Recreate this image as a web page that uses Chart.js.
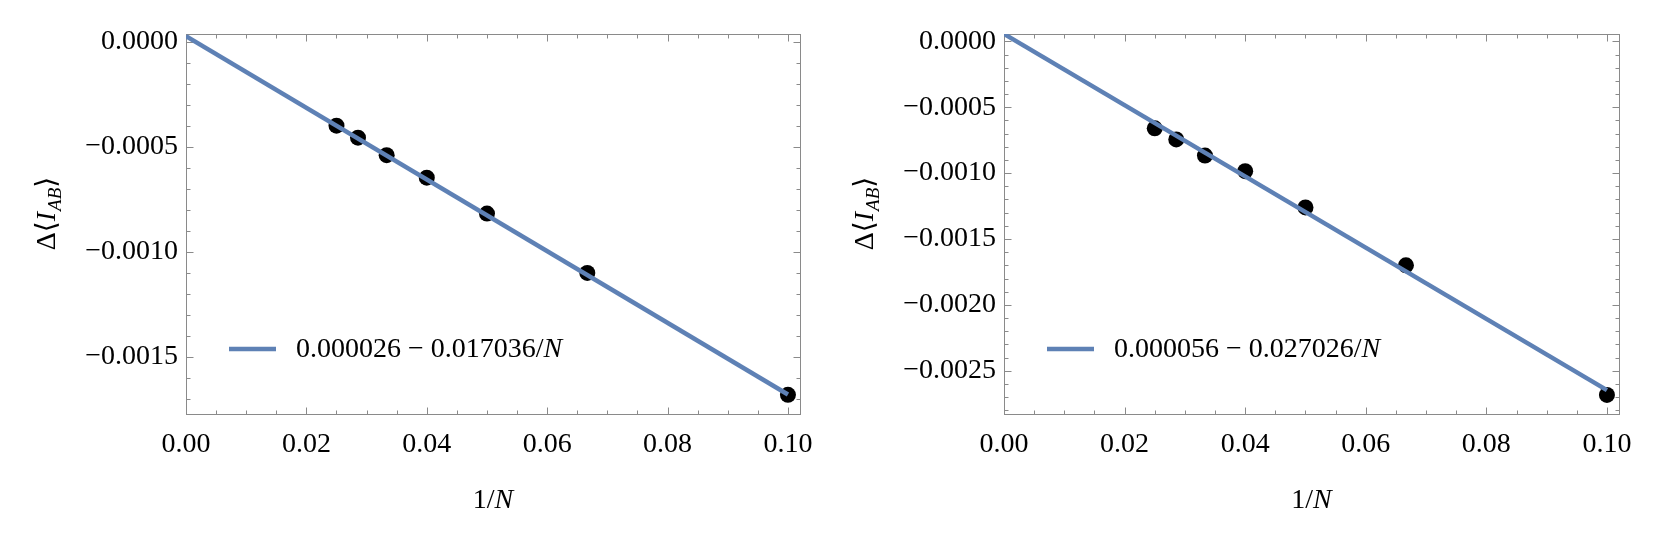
<!DOCTYPE html>
<html><head><meta charset="utf-8">
<script src="https://cdn.jsdelivr.net/npm/chart.js@4.4.1/dist/chart.umd.min.js"></script>
<style>
html,body{margin:0;padding:0;background:#fff;width:1661px;height:541px;overflow:hidden}
.panel{position:absolute;top:0;height:541px}
#p1{left:0;width:830px}
#p2{left:830px;width:831px}
</style></head><body>
<div class="panel" id="p1"><canvas id="c1"></canvas></div>
<div class="panel" id="p2"><canvas id="c2"></canvas></div>
<script>
// ---- data ----
const invN = [0.025, 0.028571, 0.033333, 0.04, 0.05, 0.066667, 0.1];
const leftValues  = [-0.000400, -0.000457, -0.000540, -0.000647, -0.000818, -0.001100, -0.001680];
const rightValues = [-0.000660, -0.000744, -0.000867, -0.000985, -0.001260, -0.001700, -0.002683];
const fitX = [0, 0.1];
const leftFitY  = [0.000026, -0.001678];
const rightFitY = [0.000056, -0.002647];
const leftFitLabel  = '0.000026 − 0.017036/N';
const rightFitLabel = '0.000056 − 0.027026/N';
const xTicks = [0, 0.02, 0.04, 0.06, 0.08, 0.10];
const leftYTicks  = [0, -0.0005, -0.0010, -0.0015];
const rightYTicks = [0, -0.0005, -0.0010, -0.0015, -0.0020, -0.0025];
const xRange = [0, 0.102];
const leftYRange  = [-0.001771, 0.000036];
const rightYRange = [-0.002828, 0.000056];

// ---- styling ----
const FONT = '"Liberation Serif", "DejaVu Serif", serif';
const FS = 28;
const LINE_COLOR = '#5E81B5';
const FRAME_COLOR = '#8a8a8a';

function fmtY(v){ return (v < 0 ? '−' : '') + Math.abs(v).toFixed(4); }

const decor = {
  id: 'decor',
  beforeDatasetsDraw(chart){
    const {ctx, chartArea: a, scales} = chart;
    const xs = scales.x, ys = scales.y;
    ctx.save();
    ctx.strokeStyle = FRAME_COLOR; ctx.lineWidth = 1;
    const L = Math.round(a.left)+0.5, R = Math.round(a.right)+0.5, T = Math.round(a.top)+0.5, B = Math.round(a.bottom)+0.5;
    ctx.strokeRect(L, T, R-L, B-T);
    ctx.beginPath();
    for (let i = 0; i*0.005 <= xs.max + 1e-9; i++){
      const v = i*0.005;
      const major = (i % 4 === 0);
      const len = major ? 7 : 4;
      const px = Math.round(xs.getPixelForValue(v)) + 0.5;
      ctx.moveTo(px, B); ctx.lineTo(px, B - len);
      ctx.moveTo(px, T); ctx.lineTo(px, T + len);
    }
    for (let i = 0; -i*0.0001 >= ys.min - 1e-12; i++){
      const v = -i*0.0001;
      const major = (i % 5 === 0);
      const len = major ? 7 : 4;
      const py = Math.round(ys.getPixelForValue(v)) + 0.5;
      ctx.moveTo(L, py); ctx.lineTo(L + len, py);
      ctx.moveTo(R, py); ctx.lineTo(R - len, py);
    }
    ctx.stroke();
    ctx.restore();
  },
  afterDraw(chart){
    const {ctx, chartArea: a} = chart;
    ctx.save();
    ctx.fillStyle = '#000';
    ctx.textBaseline = 'alphabetic';
    // legend
    const ds = chart.data.datasets[1];
    ctx.strokeStyle = ds.borderColor; ctx.lineWidth = 4.5;
    ctx.beginPath(); ctx.moveTo(a.left + 43, 349); ctx.lineTo(a.left + 90, 349); ctx.stroke();
    const lbl = ds.label;
    const head = lbl.slice(0, -1), tail = lbl.slice(-1);
    ctx.textAlign = 'left';
    ctx.font = FS + 'px ' + FONT;
    let x = a.left + 110;
    ctx.fillText(head, x, 357);
    x += ctx.measureText(head).width;
    ctx.font = 'italic ' + FS + 'px ' + FONT;
    ctx.fillText(tail, x, 357);
    // x title "1/N"
    ctx.font = FS + 'px ' + FONT;
    const w1 = ctx.measureText('1/').width;
    ctx.font = 'italic ' + FS + 'px ' + FONT;
    const w2 = ctx.measureText('N').width;
    const cx = (a.left + a.right)/2;
    let sx = cx - (w1 + w2)/2;
    ctx.font = FS + 'px ' + FONT;
    ctx.fillText('1/', sx, 508);
    ctx.font = 'italic ' + FS + 'px ' + FONT;
    ctx.fillText('N', sx + w1, 508);
    // y title  Δ⟨I_AB⟩
    const parts = [
      {t:'Δ⟨', f: FS + 'px ' + FONT, dy:0},
      {t:'I', f: 'italic ' + FS + 'px ' + FONT, dy:0},
      {t:'AB', f: 'italic 19px ' + FONT, dy:6},
      {t:'⟩', f: FS + 'px ' + FONT, dy:0}
    ];
    let tw = 0;
    parts.forEach(p => { ctx.font = p.f; p.w = ctx.measureText(p.t).width; tw += p.w; });
    ctx.translate(a.left - 131, 214);
    ctx.rotate(-Math.PI/2);
    let px = -tw/2;
    parts.forEach(p => { ctx.font = p.f; ctx.fillText(p.t, px, p.dy); px += p.w; if (p.t === 'I') px += 1; });
    ctx.restore();
  }
};

function makeChart(id, values, fitY, label, yTicks, yRange, yWidth, padRight){
  const pts = invN.map((x, i) => ({x, y: values[i]}));
  const fit = fitX.map((x, i) => ({x, y: fitY[i]}));
  return new Chart(document.getElementById(id), {
    type: 'scatter',
    data: {
      datasets: [
        {label: 'data', data: pts, pointRadius: 8, pointHoverRadius: 8, pointBackgroundColor: '#000', pointBorderWidth: 0, showLine: false, order: 2},
        {label: label, type: 'line', data: fit, borderColor: LINE_COLOR, borderWidth: 4.5, pointRadius: 0, fill: false, showLine: true, order: 1}
      ]
    },
    options: {
      responsive: true, maintainAspectRatio: false, animation: false, devicePixelRatio: 1,
      layout: {padding: {left: 0, top: 34, right: padRight, bottom: 0}},
      plugins: {legend: {display: false}, tooltip: {enabled: false}},
      scales: {
        x: {
          type: 'linear', min: xRange[0], max: xRange[1],
          afterBuildTicks: s => { s.ticks = xTicks.map(v => ({value: v})); },
          ticks: {callback: v => Number(v).toFixed(2), font: {family: FONT, size: FS}, color: '#000', padding: 14, maxRotation: 0, autoSkip: false},
          grid: {display: false, drawTicks: false}, border: {display: false},
          afterFit: s => { s.height = 127; }
        },
        y: {
          type: 'linear', min: yRange[0], max: yRange[1],
          afterBuildTicks: s => { s.ticks = yTicks.map(v => ({value: v})); },
          ticks: {callback: v => fmtY(Number(v)), font: {family: FONT, size: FS}, color: '#000', padding: 8, autoSkip: false},
          grid: {display: false, drawTicks: false}, border: {display: false},
          afterFit: s => { s.width = yWidth; }
        }
      }
    },
    plugins: [decor]
  });
}

makeChart('c1', leftValues, leftFitY, leftFitLabel, leftYTicks, leftYRange, 186, 30);
makeChart('c2', rightValues, rightFitY, rightFitLabel, rightYTicks, rightYRange, 174, 42);
</script>
</body></html>
